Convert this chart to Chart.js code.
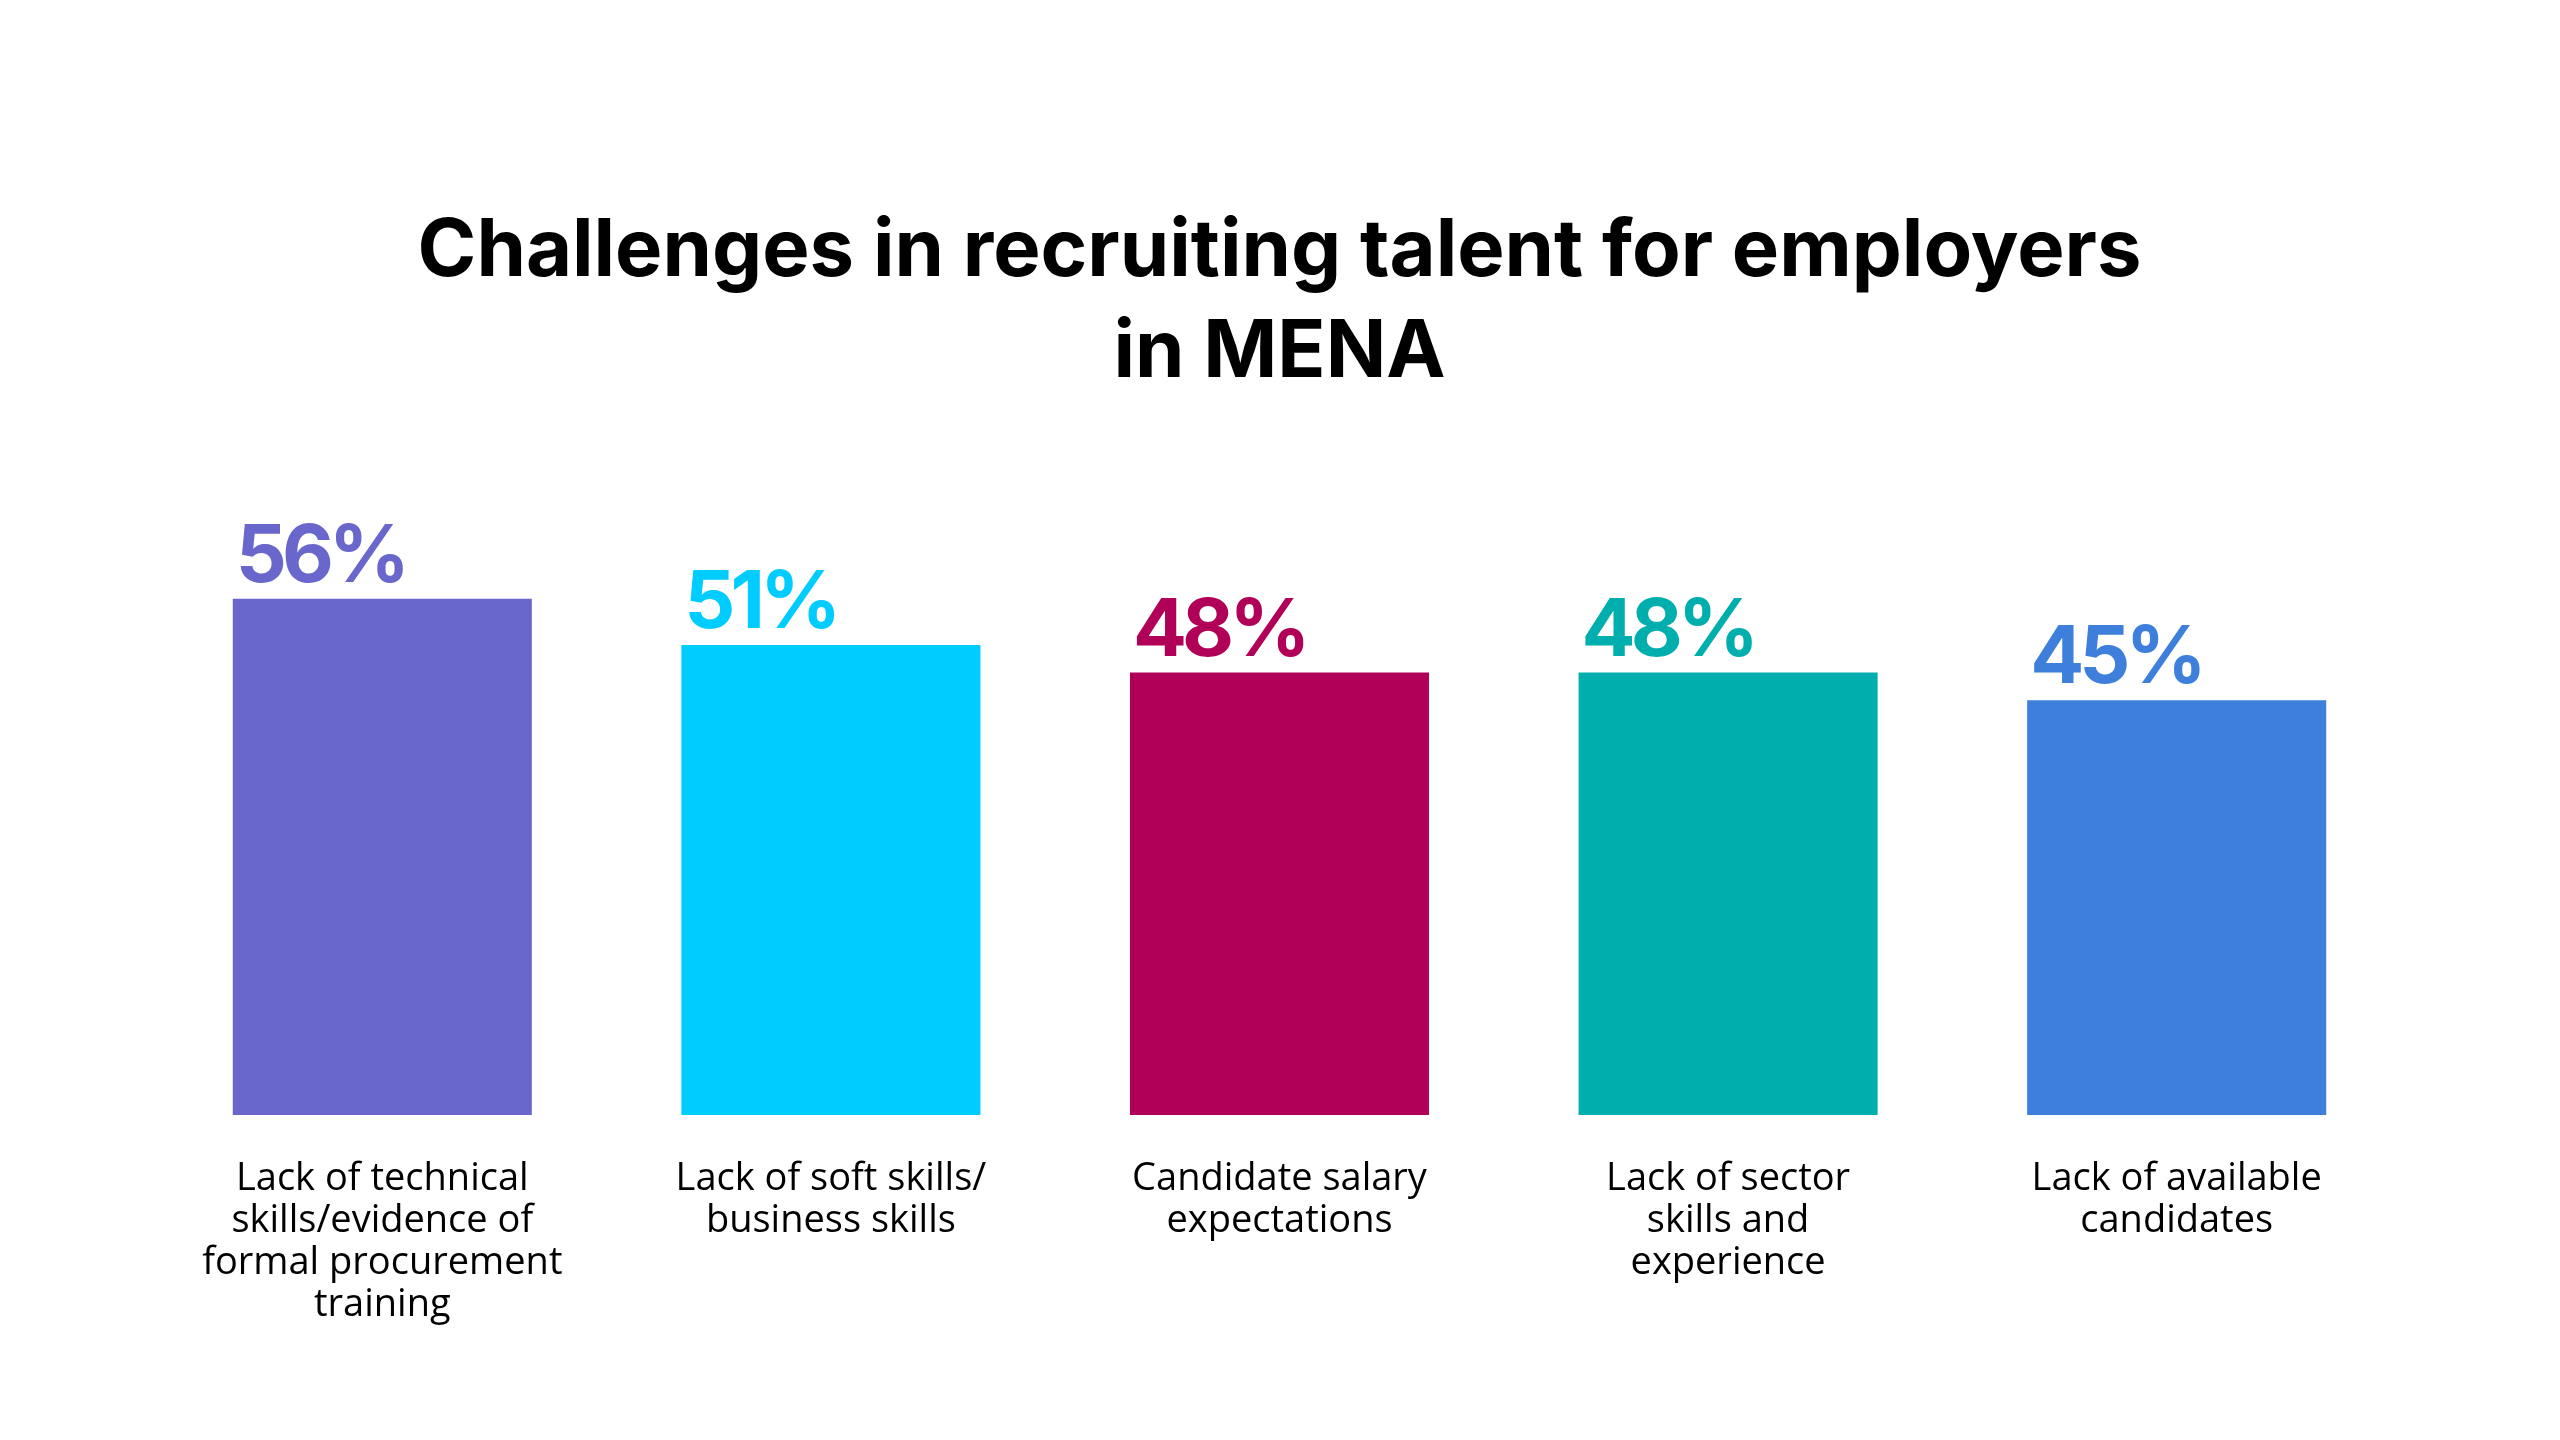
<!DOCTYPE html>
<html>
<head>
<meta charset="utf-8">
<title>Challenges in recruiting talent for employers in MENA</title>
<script src="https://cdn.jsdelivr.net/npm/chart.js@4"></script>
<style>
  html, body { margin: 0; padding: 0; background: #fff; }
  #wrap { width: 2560px; height: 1440px; position: relative; }
</style>
</head>
<body>
<div id="wrap"><canvas id="myChart"></canvas></div>
<script>
const titleLines = ["Challenges in recruiting talent for employers", "in MENA"];
const categories = [
  ["Lack of technical", "skills/evidence of", "formal procurement", "training"],
  ["Lack of soft skills/", "business skills"],
  ["Candidate salary", "expectations"],
  ["Lack of sector", "skills and", "experience"],
  ["Lack of available", "candidates"],
];
const values = [56, 51, 48, 48, 45];
const colors = ["#6967CB", "#00CCFF", "#B10058", "#00AFAD", "#3D7FDB"];

// draws "56%" etc. above each bar, left aligned with the bar
const valueLabels = {
  id: "valueLabels",
  afterDatasetsDraw(chart) {
    const ctx = chart.ctx;
    const meta = chart.getDatasetMeta(0);
    ctx.save();
    ctx.font = "700 80px Inter";
    ctx.letterSpacing = "-5px";
    ctx.textAlign = "left";
    ctx.textBaseline = "alphabetic";
    meta.data.forEach(function (bar, i) {
      ctx.fillStyle = colors[i];
      ctx.fillText(values[i] + "%", bar.x - bar.width / 2 + 3, bar.y - 17);
    });
    ctx.restore();
  },
};

const ctx = document.getElementById("myChart");
const chart = new Chart(ctx, {
  type: "bar",
  data: {
    labels: categories,
    datasets: [{
      data: values,
      backgroundColor: colors,
      borderWidth: 0,
      barPercentage: 2 / 3,
      categoryPercentage: 1,
    }],
  },
  options: {
    responsive: true,
    maintainAspectRatio: false,
    animation: false,
    devicePixelRatio: 1,
    layout: {
      padding: { left: 158, right: 159, top: 0, bottom: 71 },
    },
    plugins: {
      legend: { display: false },
      tooltip: { enabled: false },
      title: {
        display: true,
        text: titleLines,
        color: "#000",
        font: { family: "Inter", size: 79.5, weight: "700", lineHeight: 101 / 79.5 },
        padding: { top: 202, bottom: 158 },
      },
    },
    scales: {
      x: {
        grid: { display: false, drawTicks: false },
        border: { display: false },
        ticks: {
          color: "#000",
          padding: 43,
          maxRotation: 0,
          autoSkip: false,
          font: { family: "Open Sans", size: 38, lineHeight: 42 / 38 },
        },
      },
      y: {
        display: false,
        min: 0,
        max: 60,
      },
    },
  },
  plugins: [valueLabels],
});
</script>
</body>
</html>
